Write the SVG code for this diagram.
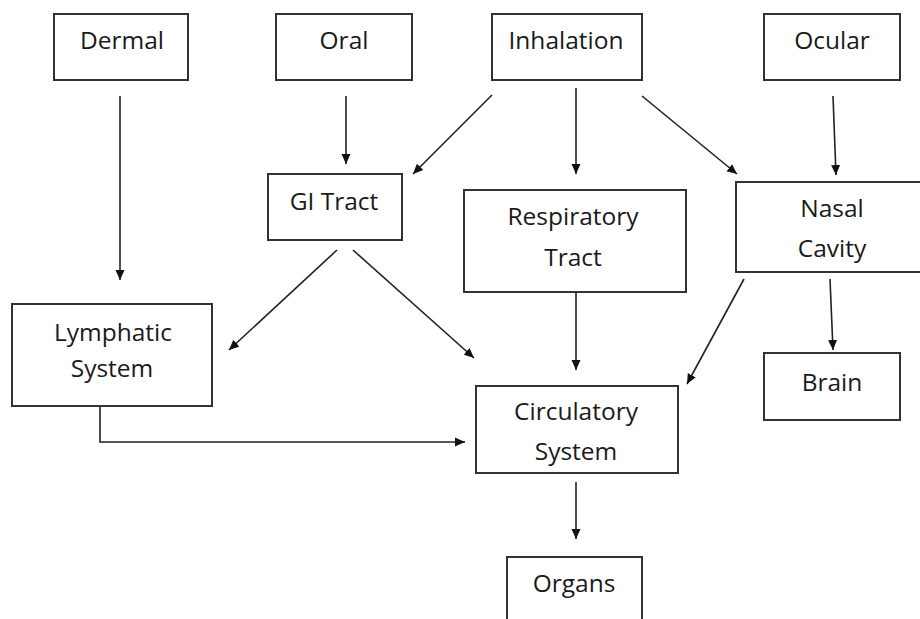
<svg xmlns="http://www.w3.org/2000/svg" width="920" height="619" viewBox="0 0 920 619">
<style>
.box{fill:#fff;stroke:#333;stroke-width:2}
.t{font-family:"Open Sans","Liberation Sans",sans-serif;font-size:24.5px;fill:#1a1a1a;text-anchor:middle}
.c{fill:none;stroke:#222;stroke-width:1.6}
</style>
<defs>
<marker id="ah" viewBox="0 0 10 10" refX="10" refY="5" markerWidth="10" markerHeight="10" markerUnits="userSpaceOnUse" orient="auto">
<path d="M0,0.5 L10,5 L0,9.5 Z" fill="#111"/>
</marker>
</defs>
<rect width="920" height="619" fill="#fff"/>
<g id="connectors">
<line class="c" x1="120" y1="96" x2="120" y2="280" marker-end="url(#ah)"/>
<line class="c" x1="346" y1="96" x2="346" y2="164" marker-end="url(#ah)"/>
<line class="c" x1="492" y1="95" x2="413" y2="174" marker-end="url(#ah)"/>
<line class="c" x1="576" y1="88" x2="576" y2="174" marker-end="url(#ah)"/>
<line class="c" x1="642" y1="96" x2="737" y2="174" marker-end="url(#ah)"/>
<line class="c" x1="833" y1="96" x2="836" y2="175" marker-end="url(#ah)"/>
<line class="c" x1="337" y1="250" x2="229" y2="350" marker-end="url(#ah)"/>
<line class="c" x1="353" y1="250" x2="474" y2="358" marker-end="url(#ah)"/>
<line class="c" x1="576" y1="292" x2="576" y2="370" marker-end="url(#ah)"/>
<line class="c" x1="744" y1="279" x2="687" y2="384" marker-end="url(#ah)"/>
<line class="c" x1="830" y1="279" x2="833" y2="350" marker-end="url(#ah)"/>
<polyline class="c" points="100,406 100,442 465,442" marker-end="url(#ah)"/>
<line class="c" x1="576" y1="482" x2="576" y2="539" marker-end="url(#ah)"/>
</g>
<g id="dermal"><rect class="box" x="54" y="14" width="134" height="66"/><text class="t" x="122" y="49">Dermal</text></g>
<g id="oral"><rect class="box" x="276" y="14" width="136" height="66"/><text class="t" x="344" y="49">Oral</text></g>
<g id="inhalation"><rect class="box" x="492" y="14" width="150" height="66"/><text class="t" x="566" y="49">Inhalation</text></g>
<g id="ocular"><rect class="box" x="764" y="14" width="136" height="66"/><text class="t" x="832" y="49">Ocular</text></g>
<g id="gi-tract"><rect class="box" x="268" y="174" width="134" height="66"/><text class="t" x="334" y="210">GI Tract</text></g>
<g id="respiratory-tract"><rect class="box" x="464" y="190" width="222" height="102"/><text class="t" x="573" y="225">Respiratory</text><text class="t" x="573" y="266">Tract</text></g>
<g id="nasal-cavity"><rect class="box" x="736" y="182" width="190" height="90"/><text class="t" x="832" y="217">Nasal</text><text class="t" x="832" y="257">Cavity</text></g>
<g id="lymphatic-system"><rect class="box" x="12" y="304" width="200" height="102"/><text class="t" x="113" y="341">Lymphatic</text><text class="t" x="112" y="377">System</text></g>
<g id="circulatory-system"><rect class="box" x="476" y="386" width="202" height="87"/><text class="t" x="576" y="420">Circulatory</text><text class="t" x="576" y="460">System</text></g>
<g id="brain"><rect class="box" x="764" y="353" width="136" height="67"/><text class="t" x="832" y="391">Brain</text></g>
<g id="organs"><rect class="box" x="507" y="557" width="135" height="80"/><text class="t" x="574" y="592">Organs</text></g>
</svg>
